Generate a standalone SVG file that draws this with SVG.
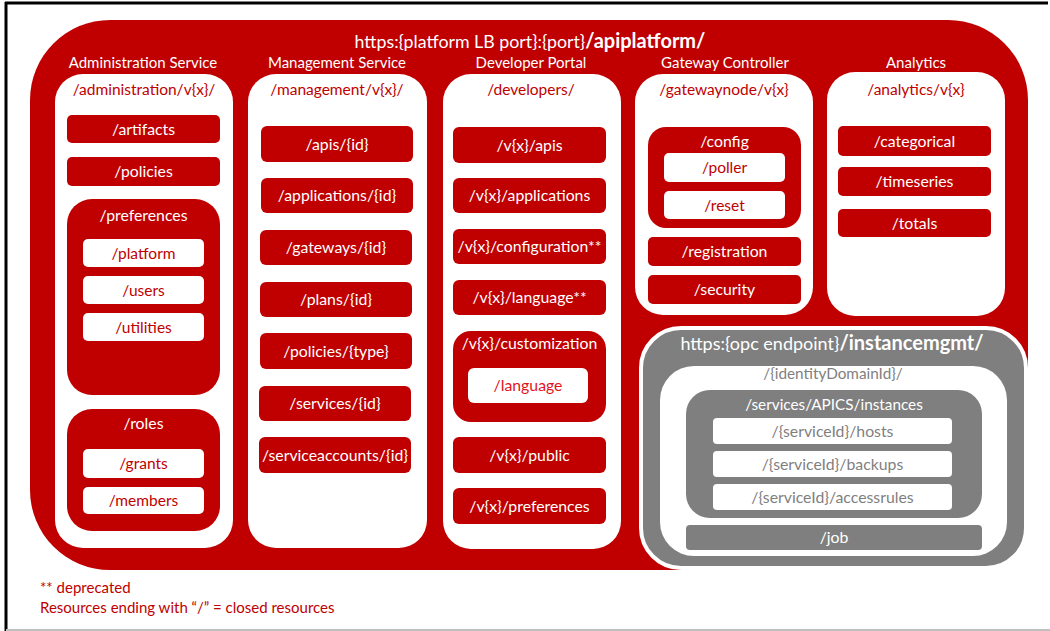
<svg xmlns="http://www.w3.org/2000/svg" width="1050" height="631" viewBox="0 0 1050 631">
<style>
text{font-family:"Lato","Open Sans","Liberation Sans",sans-serif;text-anchor:middle}
.red{fill:#c00000}
.wb{fill:#ffffff}
.gr{fill:#7f7f7f}
.tw{fill:#ffffff;font-size:15.8px}
.tr{fill:#c00000;font-size:15.5px}
.tg{fill:#7f7f7f;font-size:15.8px}
.hd{fill:#ffffff;font-size:15px}
.lg{fill:#c00000;font-size:15px;text-anchor:start}
</style>
<rect x="0" y="0" width="1050" height="631" fill="#ffffff"/>
<line x1="5" y1="3" x2="1048" y2="3" stroke="#000" stroke-width="3"/>
<line x1="6" y1="2" x2="6" y2="631" stroke="#000" stroke-width="3"/>
<line x1="6" y1="630" x2="1050" y2="630" stroke="#c0c0c0" stroke-width="2"/>

<g id="apiplatform">
<rect class="red" x="30" y="20" width="998" height="550" rx="80" ry="80"/>
<text x="530" y="48" style="font-size:17.8px;fill:#fff">https:{platform LB port}:{port}<tspan style="font-weight:bold;font-size:20px">/apiplatform/</tspan></text>
</g>

<g id="administration">
<text class="hd" x="143" y="68">Administration Service</text>
<rect class="wb" x="55" y="74" width="178" height="474" rx="28"/>
<text class="tr" x="144" y="95">/administration/v{x}/</text>
<rect class="red" x="67" y="115" width="153" height="28" rx="5"/>
<text class="tw" x="143.5" y="134.5">/artifacts</text>
<rect class="red" x="67" y="157" width="153" height="29" rx="5"/>
<text class="tw" x="143.5" y="176.5">/policies</text>
<g id="preferences">
<rect class="red" x="67" y="199" width="153" height="196" rx="25"/>
<text class="tw" x="143.5" y="220.5">/preferences</text>
<rect class="wb" x="83" y="239" width="121" height="28" rx="5"/>
<text class="tr" x="143.5" y="258.5">/platform</text>
<rect class="wb" x="83" y="276" width="121" height="28" rx="5"/>
<text class="tr" x="143.5" y="295.5">/users</text>
<rect class="wb" x="83" y="313" width="121" height="28" rx="5"/>
<text class="tr" x="143.5" y="332.5">/utilities</text>
</g>
<g id="roles">
<rect class="red" x="67" y="409" width="153" height="122" rx="25"/>
<text class="tw" x="143.5" y="428.5">/roles</text>
<rect class="wb" x="83" y="449" width="121" height="29" rx="5"/>
<text class="tr" x="143.5" y="468.5">/grants</text>
<rect class="wb" x="83" y="487" width="121" height="27" rx="5"/>
<text class="tr" x="143.5" y="505.5">/members</text>
</g>
</g>

<g id="management">
<text class="hd" x="337" y="68">Management Service</text>
<rect class="wb" x="248" y="74" width="179" height="474" rx="28"/>
<text class="tr" x="337" y="95">/management/v{x}/</text>
<rect class="red" x="261" y="126" width="152" height="36" rx="6"/>
<text class="tw" x="337" y="149.5">/apis/{id}</text>
<rect class="red" x="261" y="178" width="152" height="35" rx="6"/>
<text class="tw" x="337" y="201">/applications/{id}</text>
<rect class="red" x="260" y="230" width="152" height="35" rx="6"/>
<text class="tw" x="336" y="253">/gateways/{id}</text>
<rect class="red" x="260" y="282" width="152" height="35" rx="6"/>
<text class="tw" x="336" y="305">/plans/{id}</text>
<rect class="red" x="260" y="333" width="152" height="36" rx="6"/>
<text class="tw" x="336" y="356.5">/policies/{type}</text>
<rect class="red" x="259" y="386" width="152" height="35" rx="6"/>
<text class="tw" x="335" y="409">/services/{id}</text>
<rect class="red" x="259" y="437" width="152" height="36" rx="6"/>
<text class="tw" x="335" y="460.5">/serviceaccounts/{id}</text>
</g>

<g id="developer">
<text class="hd" x="531" y="68">Developer Portal</text>
<rect class="wb" x="443" y="74" width="178" height="475" rx="28"/>
<text class="tr" x="531" y="95">/developers/</text>
<rect class="red" x="453" y="127" width="153" height="36" rx="6"/>
<text class="tw" x="529.5" y="150.5">/v{x}/apis</text>
<rect class="red" x="453" y="178" width="153" height="35" rx="6"/>
<text class="tw" x="529.5" y="201">/v{x}/applications</text>
<rect class="red" x="453" y="229" width="153" height="35" rx="6"/>
<text class="tw" x="529.5" y="252">/v{x}/configuration**</text>
<rect class="red" x="453" y="280" width="153" height="35" rx="6"/>
<text class="tw" x="529.5" y="303">/v{x}/language**</text>
<g id="customization">
<rect class="red" x="453" y="331" width="153" height="91" rx="18"/>
<text class="tw" x="529.5" y="348.5">/v{x}/customization</text>
<rect class="wb" x="468" y="368" width="120" height="35" rx="6"/>
<text x="528" y="391" style="fill:#e3131b;font-size:15.8px">/language</text>
</g>
<rect class="red" x="453" y="437" width="153" height="36" rx="6"/>
<text class="tw" x="529.5" y="460.5">/v{x}/public</text>
<rect class="red" x="453" y="488" width="153" height="36" rx="6"/>
<text class="tw" x="529.5" y="511.5">/v{x}/preferences</text>
</g>

<g id="gateway">
<text class="hd" x="725" y="68">Gateway Controller</text>
<rect class="wb" x="635" y="74" width="178" height="241" rx="28"/>
<text class="tr" x="724" y="95">/gatewaynode/v{x}</text>
<g id="config">
<rect class="red" x="648" y="127" width="153" height="101" rx="18"/>
<text class="tw" x="724.5" y="146.5">/config</text>
<rect class="wb" x="664" y="153" width="121" height="29" rx="5"/>
<text class="tr" x="724.5" y="173">/poller</text>
<rect class="wb" x="664" y="191" width="121" height="28" rx="5"/>
<text class="tr" x="724.5" y="210.5">/reset</text>
</g>
<rect class="red" x="648" y="237" width="153" height="29" rx="5"/>
<text class="tw" x="724.5" y="257">/registration</text>
<rect class="red" x="648" y="275" width="153" height="29" rx="5"/>
<text class="tw" x="724.5" y="295">/security</text>
</g>

<g id="analytics">
<text class="hd" x="916" y="68">Analytics</text>
<rect class="wb" x="827" y="72" width="178" height="244" rx="28"/>
<text class="tr" x="916" y="95">/analytics/v{x}</text>
<rect class="red" x="838" y="126" width="153" height="30" rx="5"/>
<text class="tw" x="914.5" y="146.5">/categorical</text>
<rect class="red" x="838" y="167" width="153" height="29" rx="5"/>
<text class="tw" x="914.5" y="187">/timeseries</text>
<rect class="red" x="838" y="209" width="153" height="28" rx="5"/>
<text class="tw" x="914.5" y="228.5">/totals</text>
</g>

<g id="instancemgmt">
<rect class="gr" x="641" y="328" width="385" height="240" rx="40" stroke="#ffffff" stroke-width="4"/>
<text x="832" y="349.5" style="font-size:18px;fill:#fff">https:{opc endpoint}<tspan style="font-weight:bold;font-size:20px">/instancemgmt/</tspan></text>
<rect class="wb" x="660" y="366" width="347" height="190" rx="34"/>
<text class="tg" x="833" y="378.5" style="font-size:15.3px">/{identityDomainId}/</text>
<g id="instances">
<rect class="gr" x="686" y="390" width="296" height="128" rx="24"/>
<text class="tw" x="834" y="409.5" style="font-size:15.3px">/services/APICS/instances</text>
<rect class="wb" x="713" y="418" width="239" height="26" rx="4"/>
<text class="tg" x="832.5" y="436.5">/{serviceId}/hosts</text>
<rect class="wb" x="713" y="451" width="239" height="26" rx="4"/>
<text class="tg" x="832.5" y="469.5">/{serviceId}/backups</text>
<rect class="wb" x="713" y="484" width="239" height="26" rx="4"/>
<text class="tg" x="832.5" y="502.5">/{serviceId}/accessrules</text>
</g>
<rect class="gr" x="686" y="525" width="296" height="25" rx="4"/>
<text class="tw" x="834" y="542.5">/job</text>
</g>

<g id="legend">
<text class="lg" x="40" y="593">** deprecated</text>
<text class="lg" x="40" y="613">Resources ending with “/” = closed resources</text>
</g>
</svg>
